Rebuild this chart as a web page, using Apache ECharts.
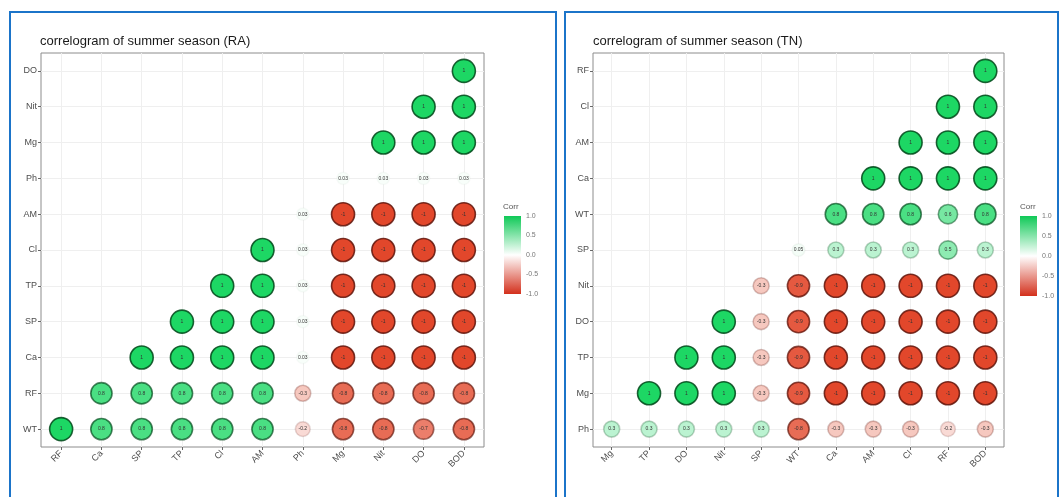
<!DOCTYPE html>
<html>
<head>
<meta charset="utf-8">
<script src="https://cdn.jsdelivr.net/npm/echarts@6/dist/echarts.min.js"></script>
<style>
  html, body { margin: 0; padding: 0; background: #fff; }
  #chart { width: 1063px; height: 497px; }
</style>
</head>
<body>
<div id="chart"></div>
<script>
// summer season (RA)
const xRA = ['RF', 'Ca', 'SP', 'TP', 'Cl', 'AM', 'Ph', 'Mg', 'Nit', 'DO', 'BOD'];
const yRA = ['WT', 'RF', 'Ca', 'SP', 'TP', 'Cl', 'AM', 'Ph', 'Mg', 'Nit', 'DO']; // bottom -> top
// row i starts at column i
const corrRA = [
  [1, 0.8, 0.8, 0.8, 0.8, 0.8, -0.2, -0.8, -0.8, -0.7, -0.8],
  [0.8, 0.8, 0.8, 0.8, 0.8, -0.3, -0.8, -0.8, -0.8, -0.8],
  [1, 1, 1, 1, 0.03, -1, -1, -1, -1],
  [1, 1, 1, 0.03, -1, -1, -1, -1],
  [1, 1, 0.03, -1, -1, -1, -1],
  [1, 0.03, -1, -1, -1, -1],
  [0.03, -1, -1, -1, -1],
  [0.03, 0.03, 0.03, 0.03],
  [1, 1, 1],
  [1, 1],
  [1],
];

// summer season (TN)
const xTN = ['Mg', 'TP', 'DO', 'Nit', 'SP', 'WT', 'Ca', 'AM', 'Cl', 'RF', 'BOD'];
const yTN = ['Ph', 'Mg', 'TP', 'DO', 'Nit', 'SP', 'WT', 'Ca', 'AM', 'Cl', 'RF'];
const corrTN = [
  [0.3, 0.3, 0.3, 0.3, 0.3, -0.8, -0.3, -0.3, -0.3, -0.2, -0.3],
  [1, 1, 1, -0.3, -0.9, -1, -1, -1, -1, -1],
  [1, 1, -0.3, -0.9, -1, -1, -1, -1, -1],
  [1, -0.3, -0.9, -1, -1, -1, -1, -1],
  [-0.3, -0.9, -1, -1, -1, -1, -1],
  [0.05, 0.3, 0.3, 0.3, 0.5, 0.3],
  [0.8, 0.8, 0.8, 0.6, 0.8],
  [1, 1, 1, 1],
  [1, 1, 1],
  [1, 1],
  [1],
];

const legendTicks = [-1, -0.5, 0, 0.5, 1];

const GREEN = '#1dd764';
const RED = '#e2472b';

// darker ring around each circle, fades out near zero
function ring(v) {
  const a = 0.85 * Math.abs(v);
  return v >= 0 ? `rgba(0,70,25,${a})` : `rgba(95,20,10,${a})`;
}

function toCells(rows) {
  const out = [];
  rows.forEach((row, i) => {
    row.forEach((v, j) => {
      out.push({ value: [i + j, i, v], itemStyle: { borderColor: ring(v) } });
    });
  });
  return out;
}

const axisText = { color: '#4d4d4d', fontSize: 9, fontFamily: 'Liberation Sans' };

function catAxis(data, isX, gridIndex) {
  return {
    type: 'category',
    data: data,
    gridIndex: gridIndex,
    boundaryGap: true,
    axisLine: { show: false },
    axisTick: { show: true, alignWithLabel: true, length: 3, lineStyle: { color: '#666' } },
    splitLine: { show: true, alignWithLabel: true, lineStyle: { color: '#efefef', width: 1 } },
    axisLabel: isX
      ? { ...axisText, rotate: 45, margin: 5 }
      : { ...axisText, margin: 4 },
  };
}

function corrSeries(rows, idx) {
  return {
    type: 'scatter',
    xAxisIndex: idx,
    yAxisIndex: idx,
    data: toCells(rows),
    symbolSize: (val) => Math.sqrt(139 + 390 * Math.abs(val[2])),
    itemStyle: { borderWidth: 1.6, opacity: 1 },
    label: {
      show: true,
      position: 'inside',
      formatter: (p) => String(p.value[2]),
      fontSize: 5,
      color: '#333',
      fontFamily: 'Liberation Sans',
    },
    silent: true,
    z: 3,
  };
}

function legendAxes(gridIndex) {
  return {
    x: {
      type: 'category', data: ['c'], gridIndex: gridIndex, show: false,
    },
    y: {
      type: 'value', gridIndex: gridIndex, min: -1, max: 1, interval: 0.5,
      position: 'right',
      axisLine: { show: false },
      axisTick: { show: false },
      splitLine: { show: false },
      axisLabel: {
        color: '#777', fontSize: 7, margin: 5, fontFamily: 'Liberation Sans',
        formatter: (v) => (legendTicks.includes(v) ? v.toFixed(1) : ''),
      },
    },
  };
}

function legendBars(idx) {
  return [
    {
      type: 'bar', xAxisIndex: idx, yAxisIndex: idx, data: [1], barWidth: '100%', silent: true,
      itemStyle: {
        color: new echarts.graphic.LinearGradient(0, 0, 0, 1, [
          { offset: 0, color: '#0fc957' }, { offset: 1, color: '#ffffff' },
        ]),
      },
    },
    {
      type: 'bar', xAxisIndex: idx, yAxisIndex: idx, data: [-1], barWidth: '100%', barGap: '-100%', silent: true,
      itemStyle: {
        color: new echarts.graphic.LinearGradient(0, 0, 0, 1, [
          { offset: 0, color: '#ffffff' }, { offset: 1, color: '#d3301c' },
        ]),
      },
    },
  ];
}

const legL = legendAxes(2);
const legR = legendAxes(3);

const titleStyle = { fontSize: 13, fontWeight: 'normal', color: '#1a1a1a', fontFamily: 'Liberation Sans' };

const chart = echarts.init(document.getElementById('chart'));
chart.setOption({
  animation: false,
  backgroundColor: '#ffffff',
  title: [
    { text: 'correlogram of summer season (RA)', left: 35, top: 30, textStyle: titleStyle },
    { text: 'correlogram of summer season (TN)', left: 588, top: 30, textStyle: titleStyle },
  ],
  grid: [
    { left: 41, top: 53, width: 443, height: 394, show: true, borderColor: '#8c8c8c', borderWidth: 1, backgroundColor: 'transparent' },
    { left: 593, top: 53, width: 411, height: 394, show: true, borderColor: '#8c8c8c', borderWidth: 1, backgroundColor: 'transparent' },
    { left: 504, top: 216, width: 17, height: 78 },
    { left: 1020, top: 216, width: 17, height: 80 },
  ],
  xAxis: [catAxis(xRA, true, 0), catAxis(xTN, true, 1), legL.x, legR.x],
  yAxis: [catAxis(yRA, false, 0), catAxis(yTN, false, 1), legL.y, legR.y],
  visualMap: [
    { show: false, type: 'continuous', dimension: 2, min: -1, max: 1, seriesIndex: 0, inRange: { color: [RED, '#ffffff', GREEN] } },
    { show: false, type: 'continuous', dimension: 2, min: -1, max: 1, seriesIndex: 1, inRange: { color: [RED, '#ffffff', GREEN] } },
  ],
  series: [
    corrSeries(corrRA, 0),
    corrSeries(corrTN, 1),
    ...legendBars(2),
    ...legendBars(3),
  ],
  graphic: [
    {
      type: 'rect', shape: { x: 10, y: 12, width: 546, height: 500 },
      style: { fill: 'none', stroke: '#1b74c9', lineWidth: 2 }, silent: true,
    },
    {
      type: 'rect', shape: { x: 565, y: 12, width: 493, height: 500 },
      style: { fill: 'none', stroke: '#1b74c9', lineWidth: 2 }, silent: true,
    },
    {
      type: 'text', left: 503, top: 203,
      style: { text: 'Corr', fontSize: 8, fill: '#555', fontFamily: 'Liberation Sans' },
    },
    {
      type: 'text', left: 1020, top: 203,
      style: { text: 'Corr', fontSize: 8, fill: '#555', fontFamily: 'Liberation Sans' },
    },
  ],
});
</script>
</body>
</html>
